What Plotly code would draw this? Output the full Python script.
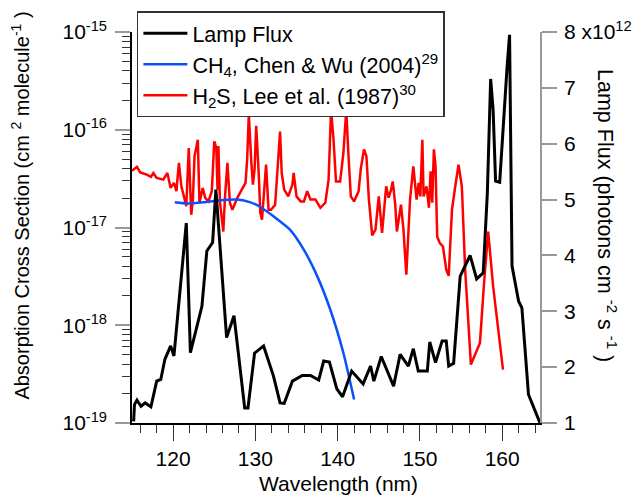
import plotly.graph_objects as go

# ---------------- data ----------------
# Lamp flux (photons cm^-2 s^-1) vs wavelength (nm)
lamp_wl = [115.2, 115.3, 115.6, 116.1, 116.6, 117.3, 118.0, 118.5, 119.0, 119.7,
           120.1, 121.6, 122.1, 122.8, 123.5, 124.1, 124.8, 125.2, 126.5, 127.4,
           128.7, 129.1, 129.9, 131.0, 132.2, 133.0, 133.5, 134.5, 135.7, 136.7,
           137.7, 138.3, 139.0, 139.9, 140.6, 141.7, 143.1, 144.0, 144.4, 145.3,
           146.8, 147.6, 148.6, 149.2, 149.8, 150.9, 151.2, 151.9, 152.7, 153.2,
           153.5, 154.1, 154.9, 156.1, 156.9, 157.7, 158.2, 158.6, 158.9, 159.2,
           159.7, 160.6, 160.9, 161.2, 162.0, 162.4, 163.2, 164.6]
lamp_flux = [1.03e12, 1.33e12, 1.41e12, 1.30e12, 1.36e12, 1.29e12, 1.75e12, 1.78e12, 2.14e12, 2.38e12,
             2.20e12, 4.58e12, 2.26e12, 2.70e12, 3.09e12, 4.08e12, 4.23e12, 5.18e12, 2.53e12, 2.92e12,
             1.27e12, 1.27e12, 2.25e12, 2.38e12, 1.84e12, 1.36e12, 1.35e12, 1.75e12, 1.85e12, 1.85e12,
             1.77e12, 2.11e12, 2.09e12, 1.61e12, 1.47e12, 1.93e12, 1.70e12, 2.02e12, 1.75e12, 2.19e12,
             1.66e12, 2.23e12, 2.02e12, 2.33e12, 1.93e12, 1.93e12, 2.45e12, 2.08e12, 2.47e12, 2.47e12,
             2.02e12, 2.07e12, 3.63e12, 4.00e12, 3.58e12, 3.69e12, 5.12e12, 7.16e12, 6.61e12, 5.33e12,
             5.31e12, 7.38e12, 7.95e12, 3.81e12, 3.18e12, 3.06e12, 1.51e12, 1.00e12]

# CH4 cross section, Chen & Wu (2004)
ch4_wl = [120.2, 121.7, 123.7, 125.7, 127.8, 129.4, 130.6, 132.2, 134.2, 135.9,
          137.5, 139.1, 140.7, 142.0]
ch4_xs = [1.81e-17, 1.76e-17, 1.81e-17, 1.90e-17, 1.93e-17, 1.81e-17, 1.62e-17, 1.30e-17, 9.5e-18, 5.9e-18,
          3.2e-18, 1.45e-18, 5.2e-19, 1.74e-19]

# H2S cross section, Lee et al. (1987)
h2s_wl = [115.0, 115.2, 115.6, 116.0, 116.8, 117.3, 117.6, 118.0, 118.8, 119.3,
          119.7, 120.1, 120.4, 120.7, 121.0, 121.2, 121.6, 121.9, 122.2, 122.4,
          122.6, 123.0, 123.2, 123.6, 123.9, 124.3, 124.7, 125.0, 125.25, 125.4,
          125.5, 125.7, 125.9, 126.1, 126.3, 126.6, 126.9, 127.2, 127.8, 128.4,
          128.8, 129.0, 129.2, 129.5, 129.7, 129.9, 130.1, 130.4, 130.6, 130.8,
          131.1, 131.3, 131.6, 131.9, 132.4, 132.8, 133.0, 133.2, 133.5, 134.0,
          134.5, 134.65, 135.0, 135.5, 135.9, 136.3, 136.7, 137.3, 137.9, 138.5,
          138.9, 139.2, 139.5, 139.8, 140.3, 140.7, 141.05, 141.3, 141.6, 142.0,
          142.55, 142.8, 143.2, 143.5, 143.8, 144.2, 144.6, 145.0, 145.2, 145.4,
          145.9, 146.2, 146.5, 146.7, 147.0, 147.2, 147.7, 148.0, 148.35, 148.8,
          149.2, 149.6, 149.85, 150.05, 150.3, 150.45, 150.8, 151.1, 151.3, 151.5,
          151.7, 151.9, 152.1, 152.4, 152.8, 153.2, 153.5, 153.9, 154.3, 154.7,
          155.1, 155.5, 156.2, 157.3, 157.8, 158.3, 158.9, 159.4, 160.1]
h2s_xs = [3.80e-17, 3.91e-17, 4.17e-17, 3.66e-17, 3.47e-17, 3.29e-17, 3.61e-17, 3.21e-17, 3.09e-17, 3.61e-17,
          2.54e-17, 2.86e-17, 2.35e-17, 4.58e-17, 2.64e-17, 2.27e-17, 1.65e-17, 6.5e-17, 1.35e-17, 1.93e-17,
          5.35e-17, 7.9e-17, 1.79e-17, 2.54e-17, 2.01e-17, 1.85e-17, 2.35e-17, 7.6e-17, 6.5e-17, 2.44e-17,
          6.8e-17, 1.79e-17, 1.30e-17, 9.1e-18, 2.01e-17, 4.58e-17, 1.79e-17, 1.52e-17, 2.01e-17, 2.54e-17,
          2.86e-17, 4.95e-17, 1.45e-16, 4.75e-17, 2.75e-17, 3.91e-17, 1.10e-16, 3.61e-17, 1.41e-17, 1.20e-17,
          2.64e-17, 4.40e-17, 1.52e-17, 1.52e-17, 1.71e-17, 4.95e-17, 9.6e-17, 3.61e-17, 2.44e-17, 2.08e-17,
          2.75e-17, 3.61e-17, 2.08e-17, 1.85e-17, 1.85e-17, 2.35e-17, 1.93e-17, 1.93e-17, 1.59e-17, 1.79e-17,
          3.09e-17, 1.60e-16, 7.9e-17, 2.95e-17, 2.95e-17, 5.8e-17, 1.60e-16, 5.8e-17, 2.08e-17, 1.85e-17,
          2.35e-17, 3.91e-17, 6.3e-17, 5.35e-17, 1.93e-17, 8.3e-18, 9.5e-18, 2.08e-17, 1.20e-17, 8.8e-18,
          2.64e-17, 2.02e-17, 2.44e-17, 2.96e-17, 1.71e-17, 9.1e-18, 1.71e-17, 9.5e-18, 3.3e-18, 1.93e-17,
          4.22e-17, 1.93e-17, 2.86e-17, 2.08e-17, 7.9e-17, 2.08e-17, 2.64e-17, 1.59e-17, 3.76e-17, 1.79e-17,
          6.3e-17, 4.22e-17, 8.1e-18, 6.97e-18, 6.4e-18, 3.7e-18, 3.2e-18, 1.52e-17, 2.64e-17, 4.4e-17,
          2.64e-17, 3.7e-18, 3.96e-19, 6.6e-19, 2.71e-18, 9.1e-18, 2.51e-18, 1.06e-18, 3.52e-19]

left_tickvals = [1e-19, 1e-18, 1e-17, 1e-16, 1e-15]
left_ticktext = ["10<sup>-19</sup>", "10<sup>-18</sup>", "10<sup>-17</sup>", "10<sup>-16</sup>", "10<sup>-15</sup>"]
right_tickvals = [1e12, 2e12, 3e12, 4e12, 5e12, 6e12, 7e12, 8e12]
right_ticktext = ["1", "2", "3", "4", "5", "6", "7", "8 x10<sup>12</sup>"]

# minor tick positions of the log axis (2..9 within each decade)
left_minor = [m * 10.0 ** e for e in range(-19, -15) for m in range(2, 10)]

FONT = "Liberation Sans, Arial, sans-serif"
FS = 21

fig = go.Figure()

fig.add_trace(go.Scatter(
    x=h2s_wl, y=h2s_xs, mode="lines",
    name="H<sub>2</sub>S, Lee et al. (1987)<sup>30</sup>",
    line=dict(color="#ff0000", width=2.5),
    legendrank=3, legendgroup="c",
))
fig.add_trace(go.Scatter(
    x=ch4_wl, y=ch4_xs, mode="lines",
    name="CH<sub>4</sub>, Chen &amp; Wu (2004)<sup>29</sup>",
    line=dict(color="#0a50ff", width=2.5, shape="spline", smoothing=0.6),
    legendrank=2, legendgroup="b",
))
fig.add_trace(go.Scatter(
    x=lamp_wl, y=lamp_flux, mode="lines", yaxis="y2",
    name="Lamp Flux",
    line=dict(color="#000000", width=3),
    legendrank=1, legendgroup="a",
))

fig.update_layout(
    width=634, height=495,
    margin=dict(l=132, r=94, t=32, b=72, pad=0, autoexpand=False),
    paper_bgcolor="white", plot_bgcolor="white",
    font=dict(family=FONT, size=FS, color="black"),
    showlegend=True,
    legend=dict(
        x=0.012, y=1.0527, xanchor="left", yanchor="top",
        bgcolor="white", bordercolor="#333333", borderwidth=1.5,
        font=dict(family=FONT, size=21.5, color="black"),
        tracegroupgap=11, traceorder="normal", itemwidth=44,
    ),
    xaxis=dict(
        range=[115, 164.6], showgrid=False, zeroline=False, automargin=False,
        showline=True, linecolor="black", linewidth=1.5,
        ticks="outside", ticklen=16, tickwidth=1.2, tickcolor="#333333",
        tick0=0, dtick=10,
        minor=dict(ticks="outside", ticklen=8, tickwidth=1.2, tickcolor="#333333", dtick=2, showgrid=False),
        tickfont=dict(family=FONT, size=FS),
    ),
    yaxis=dict(
        type="log", range=[-19, -15], showgrid=False, zeroline=False, automargin=False,
        showline=True, linecolor="black", linewidth=1.5,
        ticks="outside", ticklen=15, tickwidth=1.5, tickcolor="#999999",
        tickmode="array", tickvals=left_tickvals, ticktext=left_ticktext,
        ticklabelstandoff=4,
        minor=dict(ticks="outside", ticklen=8, tickwidth=1.2, tickcolor="#333333",
                   tickmode="array", tickvals=left_minor, showgrid=False),
        tickfont=dict(family=FONT, size=FS),
    ),
    yaxis2=dict(
        overlaying="y", side="right", anchor="x", automargin=False,
        range=[1e12, 8e12], showgrid=False, zeroline=False,
        showline=True, linecolor="#999999", linewidth=1.5,
        ticks="outside", ticklen=15, tickwidth=1.5, tickcolor="#999999",
        tickmode="array", tickvals=right_tickvals, ticktext=right_ticktext,
        ticklabelstandoff=3,
        tickfont=dict(family=FONT, size=FS),
    ),
    annotations=[
        dict(text="Absorption Cross Section (cm <sup>2</sup> molecule<sup>-1</sup> )",
             xref="paper", yref="paper", x=-0.273, y=0.555,
             xanchor="center", yanchor="middle", textangle=-90, showarrow=False,
             font=dict(family=FONT, size=20)),
        dict(text="Lamp Flux (photons cm <sup>-2</sup> s <sup>-1</sup> )",
             xref="paper", yref="paper", x=1.166, y=0.53,
             xanchor="center", yanchor="middle", textangle=90, showarrow=False,
             font=dict(family=FONT, size=21.5)),
        dict(text="Wavelength (nm)",
             xref="paper", yref="paper", x=0.505, y=-0.155,
             xanchor="center", yanchor="middle", showarrow=False,
             font=dict(family=FONT, size=FS)),
    ],
)

# remove the browser's default 8px body margin so the figure fills the window exactly
fig.write_html("out.html", config={"displayModeBar": False},
               post_script="document.body.style.margin='0px';")
